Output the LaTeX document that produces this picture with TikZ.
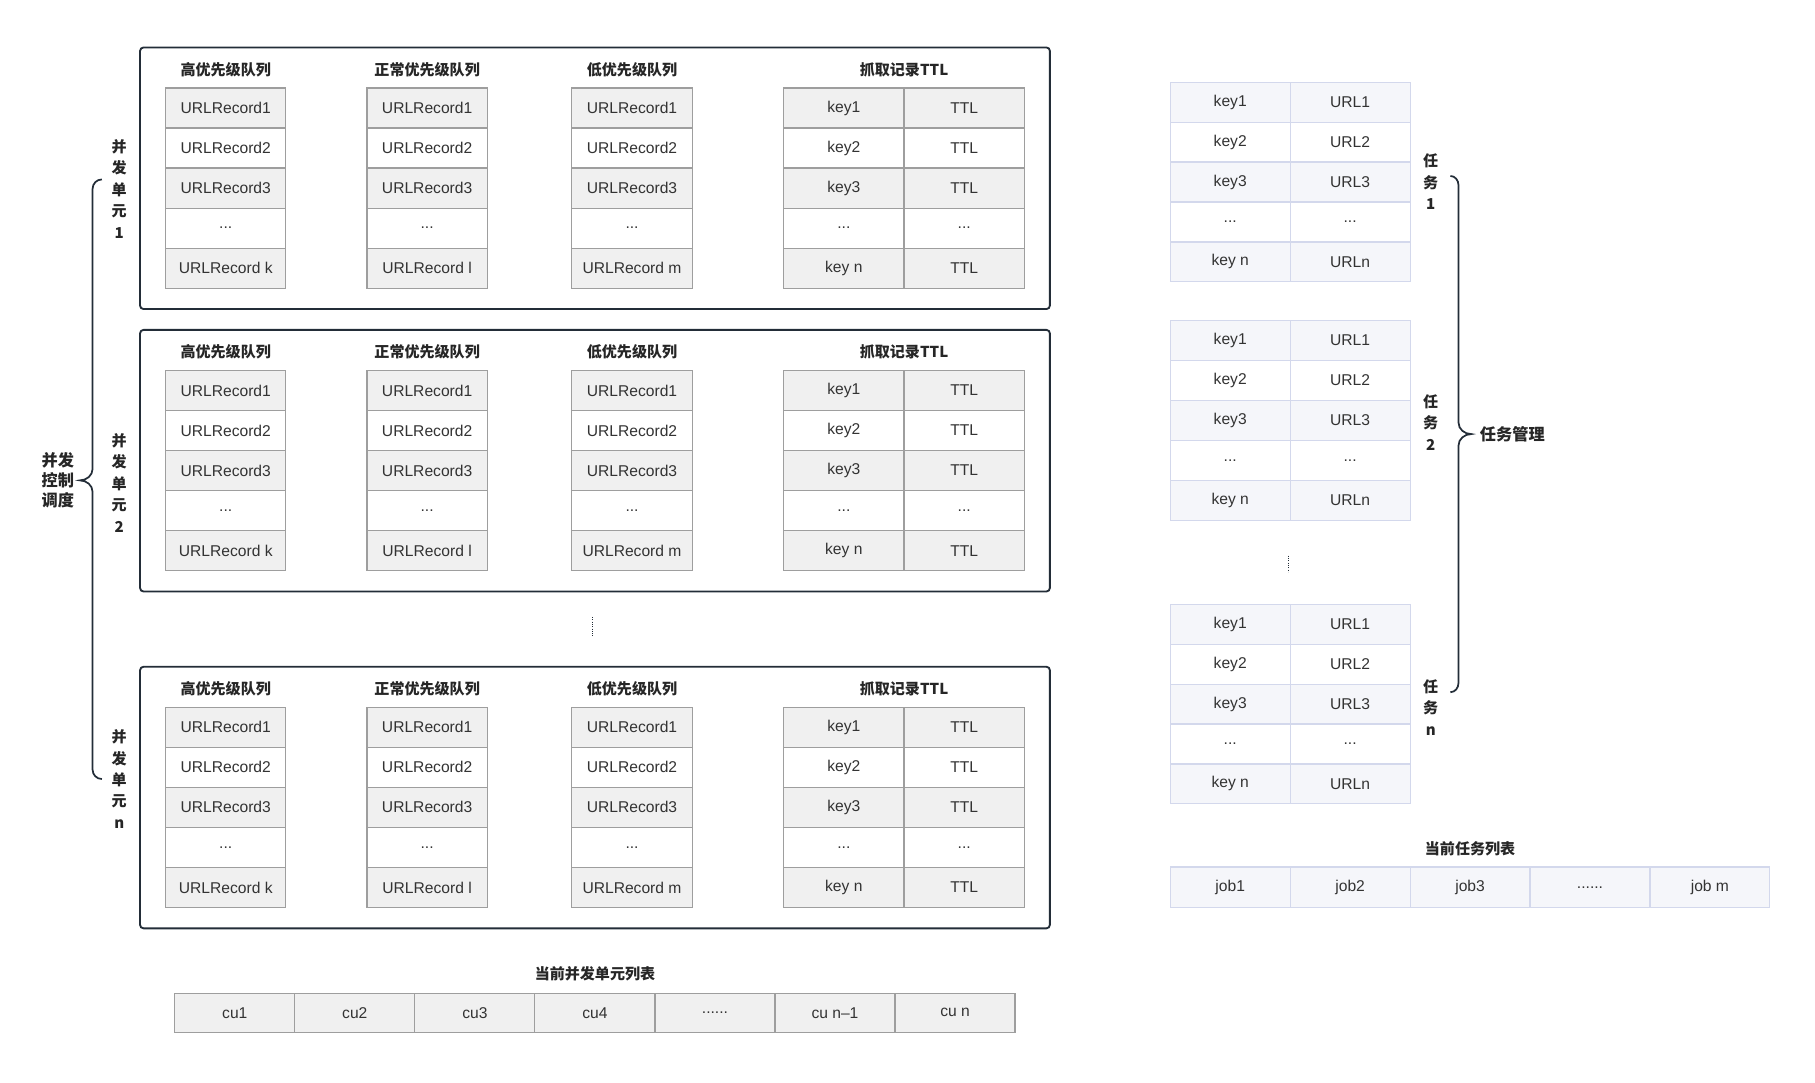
\documentclass[tikz,border=0pt]{standalone}
\usepackage{fontspec}
\setmainfont{Liberation Sans}
\newfontfamily\cjk{Noto Sans CJK SC}
\definecolor{boxline}{HTML}{232D38}
\definecolor{cellline}{HTML}{9E9E9E}
\definecolor{cellgray}{HTML}{F0F0F0}
\definecolor{taskline}{HTML}{D3D8EC}
\definecolor{taskfill}{HTML}{F5F6FA}
\definecolor{txt}{HTML}{333333}
\newcommand\celldots{...}
\newcommand\listdots{......}

\tikzset{
    cell/.style={draw=cellline, line width=1pt, minimum width=104pt, minimum height=34.6pt,
        inner sep=0pt, text=txt, font=\fontsize{13.5}{16}\selectfont},
    gcell/.style={cell, fill=cellgray},
    wcell/.style={cell, fill=white},
    tcell/.style={cell, draw=taskline, fill=taskfill, minimum width=103.6pt, minimum height=34.5pt},
    twcell/.style={tcell, fill=white},
    head/.style={text=black!85, font=\cjk\bfseries\fontsize{13}{15}\selectfont},
    vlabel/.style={head, align=center, font=\cjk\bfseries\fontsize{13}{18.5}\selectfont},
    unitbox/.style={draw=boxline, line width=1.6pt, rounded corners=3pt},
    bracket/.style={draw=boxline, line width=1.5pt},
    vdots/.style={draw=boxline, line width=1pt, dash pattern=on 0.8pt off 1.2pt}
}

\begin{document}
\begin{tikzpicture}[x=1pt,y=-1pt]
    \useasboundingbox (0,0) rectangle (1568,934.8);

    % concurrent units
    \foreach \u/\by in {1/41, 2/285, n/576} {
        \draw[unitbox] (121,\by) rectangle ++(786,226);
        \node[head] (h-\u-hi) at (195,\by+19) {高优先级队列};
        \node[head] (h-\u-mid) at (369,\by+19) {正常优先级队列};
        \node[head] (h-\u-lo) at (546,\by+19) {低优先级队列};
        \node[head] (h-\u-ttl) at (781,\by+19) {抓取记录TTL};
        \foreach \q/\cx/\last in {hi/195/k, mid/369/l, lo/546/m} {
            \foreach \r/\lab/\st in {1/URLRecord1/gcell, 2/URLRecord2/wcell, 3/URLRecord3/gcell,
                                     4/\celldots/wcell, 5/URLRecord \last/gcell} {
                \node[\st] (\u-\q-\r) at (\cx,\by+35+17.3+\r*34.6-34.6) {\lab};
            }
        }
        \foreach \r/\k/\t/\st in {1/key1/TTL/gcell, 2/key2/TTL/wcell, 3/key3/TTL/gcell,
                                  4/\celldots/\celldots/wcell, 5/key n/TTL/gcell} {
            \node[\st] (\u-key-\r) at (729,\by+35+17.3+\r*34.6-34.6) {\k};
            \node[\st] (\u-ttl-\r) at (833,\by+35+17.3+\r*34.6-34.6) {\t};
        }
    }
    \node[vlabel] (l-1) at (103,163) {并\\发\\单\\元\\1};
    \node[vlabel] (l-2) at (103,417) {并\\发\\单\\元\\2};
    \node[vlabel] (l-n) at (103,673) {并\\发\\单\\元\\n};
    \draw[vdots] (512,533) -- (512,550);

    % scheduler bracket
    \node[vlabel, font=\cjk\bfseries\fontsize{14}{17.5}\selectfont] (sched) at (50,415) {并发\\控制\\调度};
    \draw[bracket] (88,155) to[out=180,in=90] (80,163) -- (80,405)
        to[out=-90,in=0] (69,415) to[out=0,in=90] (80,425) -- (80,665)
        to[out=-90,in=180] (88,673);

    % current unit list
    \node[head] (culist) at (514,841) {当前并发单元列表};
    \foreach \i/\lab in {0/cu1, 1/cu2, 2/cu3, 3/cu4, 4/\listdots, 5/cu n–1, 6/cu n} {
        \node[gcell, minimum width=103.7pt, minimum height=34pt] (cu-\i) at (202.85+\i*103.7,875) {\lab};
    }

    % tasks
    \foreach \t/\ty in {1/71, 2/277, n/522} {
        \foreach \r/\k/\v/\st in {1/key1/URL1/tcell, 2/key2/URL2/twcell, 3/key3/URL3/tcell,
                                  4/\celldots/\celldots/twcell, 5/key n/URLn/tcell} {
            \node[\st] (t\t-key-\r) at (1062.8,\ty+17.25+\r*34.5-34.5) {\k};
            \node[\st] (t\t-url-\r) at (1166.4,\ty+17.25+\r*34.5-34.5) {\v};
        }
    }
    \node[vlabel] (tl-1) at (1236,157) {任\\务\\1};
    \node[vlabel] (tl-2) at (1236,365) {任\\务\\2};
    \node[vlabel] (tl-n) at (1236,611) {任\\务\\n};
    \draw[vdots] (1113,480) -- (1113,494);

    % task bracket
    \draw[bracket] (1253,152) to[out=0,in=90] (1260,160) -- (1260,365)
        to[out=-90,in=180] (1271,375) to[out=180,in=90] (1260,385) -- (1260,590)
        to[out=-90,in=0] (1253,598);
    \node[head, anchor=west, font=\cjk\bfseries\fontsize{14}{16}\selectfont] (taskmgr) at (1275,375) {任务管理};

    % current job list
    \node[head] (joblist) at (1270,733) {当前任务列表};
    \foreach \i/\lab in {0/job1, 1/job2, 2/job3, 3/\listdots, 4/job m} {
        \node[tcell, minimum height=35pt] (job-\i) at (1062.8+\i*103.6,766.5) {\lab};
    }
\end{tikzpicture}
\end{document}
